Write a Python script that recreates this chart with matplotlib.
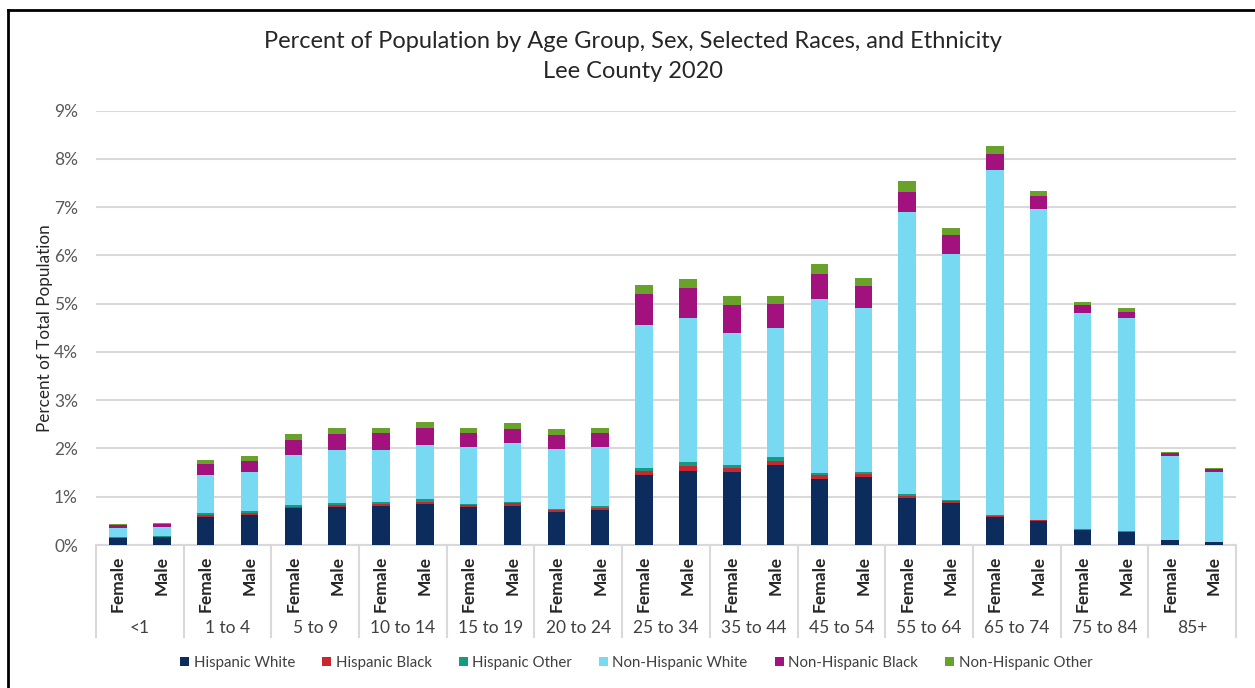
import numpy as np
import matplotlib
matplotlib.use('Agg')
import matplotlib.pyplot as plt
from matplotlib.patches import Patch
from matplotlib.lines import Line2D
from matplotlib.ticker import FuncFormatter

plt.rcParams['font.family'] = ['Lato', 'DejaVu Sans']

# %% data (percent of total population)

age_groups = ['<1', '1 to 4', '5 to 9', '10 to 14', '15 to 19', '20 to 24', '25 to 34',
              '35 to 44', '45 to 54', '55 to 64', '65 to 74', '75 to 84', '85+']
sexes = ['Female', 'Male']
series = ['Hispanic White', 'Hispanic Black', 'Hispanic Other',
          'Non-Hispanic White', 'Non-Hispanic Black', 'Non-Hispanic Other']

# one value per bar: <1 F, <1 M, 1-4 F, 1-4 M, ...
hisp_white = [0.14, 0.16, 0.59, 0.62, 0.76, 0.79, 0.80, 0.84, 0.78, 0.81, 0.69, 0.73, 1.45,
              1.54, 1.52, 1.65, 1.37, 1.41, 0.98, 0.88, 0.59, 0.49, 0.31, 0.26, 0.10, 0.06]
hisp_black = [0.01, 0.01, 0.03, 0.04, 0.03, 0.04, 0.05, 0.06, 0.04, 0.05, 0.04, 0.04, 0.08,
              0.09, 0.07, 0.09, 0.09, 0.07, 0.04, 0.04, 0.02, 0.02, 0.01, 0.01, 0.005, 0.005]
hisp_other = [0.01, 0.01, 0.04, 0.04, 0.04, 0.05, 0.05, 0.05, 0.03, 0.04, 0.02, 0.04, 0.07,
              0.09, 0.06, 0.08, 0.03, 0.04, 0.03, 0.02, 0.02, 0.01, 0.01, 0.01, 0.005, 0.005]
nonhisp_white = [0.19, 0.19, 0.80, 0.82, 1.04, 1.09, 1.07, 1.13, 1.17, 1.21, 1.23, 1.22, 2.95,
                 2.98, 2.74, 2.68, 3.61, 3.39, 5.85, 5.08, 7.14, 6.44, 4.48, 4.42, 1.74, 1.45]
nonhisp_black = [0.06, 0.06, 0.22, 0.23, 0.31, 0.32, 0.34, 0.34, 0.29, 0.29, 0.29, 0.28, 0.65,
                 0.62, 0.58, 0.50, 0.51, 0.46, 0.42, 0.41, 0.32, 0.27, 0.16, 0.13, 0.05, 0.05]
nonhisp_other = [0.02, 0.02, 0.09, 0.10, 0.12, 0.13, 0.12, 0.13, 0.11, 0.12, 0.13, 0.11, 0.19,
                 0.20, 0.19, 0.16, 0.21, 0.16, 0.21, 0.14, 0.17, 0.11, 0.06, 0.07, 0.02, 0.02]

colors = ['#0b2c5c', '#c8282d', '#169a82', '#78d9f2', '#a3117f', '#68a22a']

# %% figure

fig = plt.figure(figsize=(12.55, 6.88), dpi=100)
ax = fig.add_axes([96 / 1255, 143 / 688, 1140 / 1255, 434.5 / 688])

x = np.arange(len(hisp_white))
bottom = np.zeros(len(x))
for vals, col in zip([hisp_white, hisp_black, hisp_other, nonhisp_white, nonhisp_black, nonhisp_other], colors):
    ax.bar(x, vals, 0.4, bottom=bottom, color=col, zorder=3)
    bottom += np.array(vals)

ax.set_xlim(-0.5, len(x) - 0.5)
ax.set_ylim(0, 9)
ax.set_yticks(np.arange(0, 10, 1))
ax.yaxis.set_major_formatter(FuncFormatter(lambda v, p: '%d%%' % v))
ax.tick_params(axis='y', length=0, pad=13, labelsize=12.5, labelcolor='#595959')
ax.set_xticks([])
ax.grid(axis='y', color='#d9d9d9', linewidth=1.5, zorder=0)
for s in ['left', 'right', 'top']:
    ax.spines[s].set_visible(False)
ax.spines['bottom'].set_color('#d9d9d9')
ax.spines['bottom'].set_linewidth(1.5)
ax.set_ylabel('Percent of Total Population', fontsize=12.3, color='#262626', labelpad=1)

# category axis: sex labels, age group labels and separators
trans = ax.get_xaxis_transform()
for i in range(len(x)):
    ax.text(i, -0.025, sexes[i % 2], rotation=90, ha='center', va='top', transform=trans,
            fontsize=12.5, color='#262626', fontweight='bold')
for g, name in enumerate(age_groups):
    ax.text(2 * g + 0.5, -0.19, name, ha='center', va='center', transform=trans,
            fontsize=12.5, color='#404040')
for b in np.arange(-0.5, len(x), 2):
    ax.add_line(Line2D([b, b], [0, -0.212], transform=trans, color='#d9d9d9',
                       linewidth=1.5, clip_on=False))

fig.text(0.504, 1 - 42 / 688, 'Percent of Population by Age Group, Sex, Selected Races, and Ethnicity',
         ha='center', va='center', fontsize=17, color='#262626')
fig.text(0.504, 1 - 72 / 688, 'Lee County 2020', ha='center', va='center', fontsize=17, color='#262626')

handles = [Patch(facecolor=c, label=s) for c, s in zip(colors, series)]
fig.legend(handles=handles, loc='center', bbox_to_anchor=(0.507, 1 - 663 / 688), ncol=6,
           frameon=False, fontsize=10.8, handlelength=0.6, handleheight=0.6,
           handletextpad=0.3, columnspacing=1.8, labelcolor='#404040')

# outer frame (left and top edges visible)
fig.add_artist(Line2D([8 / 1255, 8 / 1255], [0, 1 - 10 / 688], transform=fig.transFigure,
                      color='black', linewidth=2))
fig.add_artist(Line2D([8 / 1255, 1], [1 - 10 / 688, 1 - 10 / 688], transform=fig.transFigure,
                      color='black', linewidth=2))

fig.savefig('out.png', dpi=100)
